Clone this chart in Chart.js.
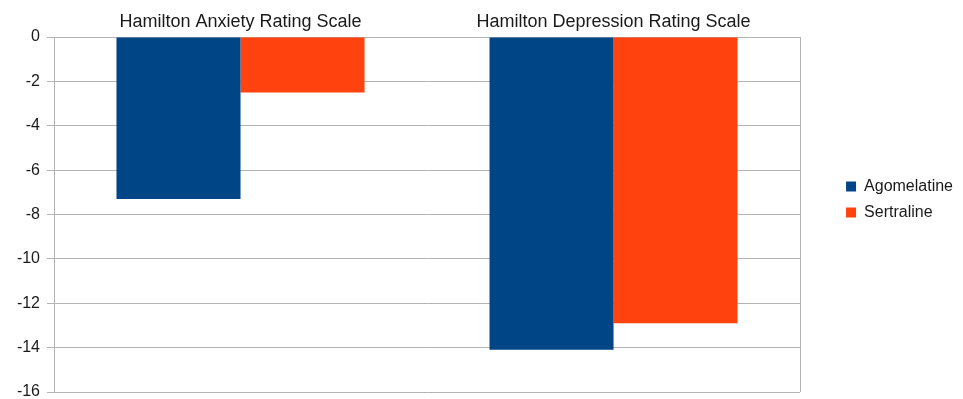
<!DOCTYPE html>
<html>
<head>
<meta charset="utf-8">
<script src="https://cdn.jsdelivr.net/npm/chart.js@4/dist/chart.umd.min.js"></script>
<style>
    html, body { margin: 0; padding: 0; background: #fff; }
    #scaleChart { display: block; }
</style>
</head>
<body>
<canvas id="scaleChart" width="963" height="399"></canvas>
<script>
const scaleLabels = ['Hamilton Anxiety Rating Scale', 'Hamilton Depression Rating Scale'];
const agomelatineData = [-7.3, -14.1];
const sertralineData = [-2.5, -12.9];
const yMin = -16;
const yMax = 0;
const yStep = 2;

document.addEventListener('DOMContentLoaded', function () {
    loadScaleChart();
});

const gridColor = '#b3b3b3';
const textColor = '#1a1a1a';

const chartScaleData = {
    labels: scaleLabels,
    datasets: [
        {
            label: 'Agomelatine',
            data: agomelatineData,
            backgroundColor: '#004586',
            borderWidth: 0
        },
        {
            label: 'Sertraline',
            data: sertralineData,
            backgroundColor: '#ff420e',
            borderWidth: 0
        }
    ]
};

function loadScaleChart() {
    const ctx = document.getElementById('scaleChart').getContext('2d');
    const scaleChart = new Chart(ctx, {
        type: 'bar',
        data: chartScaleData,
        options: {
            responsive: false,
            animation: false,
            layout: {
                padding: { left: 0, right: 0, top: 0, bottom: 0 }
            },
            datasets: {
                bar: {
                    categoryPercentage: 0.665,
                    barPercentage: 1.0
                }
            },
            plugins: {
                tooltip: { enabled: false },
                legend: {
                    position: 'right',
                    align: 'center',
                    labels: {
                        boxWidth: 10,
                        boxHeight: 10,
                        padding: 10,
                        color: textColor,
                        font: { family: 'Liberation Sans', size: 16 }
                    }
                }
            },
            scales: {
                x: {
                    position: 'top',
                    offset: true,
                    grid: {
                        offset: true,
                        drawTicks: false,
                        color: function (c) {
                            return c.index === 1 ? 'rgba(0,0,0,0)' : gridColor;
                        }
                    },
                    border: { color: gridColor },
                    ticks: {
                        color: textColor,
                        padding: 4,
                        maxRotation: 0,
                        autoSkip: false,
                        font: { family: 'Liberation Sans', size: 18 }
                    },
                    afterFit: function (scale) {
                        scale.height = 37;
                    }
                },
                y: {
                    min: yMin,
                    max: yMax,
                    grid: {
                        color: gridColor,
                        tickLength: 7
                    },
                    border: { color: gridColor },
                    ticks: {
                        stepSize: yStep,
                        color: textColor,
                        padding: 7,
                        font: { family: 'Liberation Sans', size: 16 }
                    },
                    afterFit: function (scale) {
                        scale.width = 54;
                        // the -16 label is cut by the bottom edge in the original
                        scale.paddingBottom = 7;
                    }
                },
                gap: {
                    type: 'linear',
                    position: 'right',
                    display: true,
                    grid: { display: false },
                    border: { display: false },
                    ticks: { display: false },
                    afterFit: function (scale) {
                        scale.width = 36;
                    }
                }
            }
        }
    });
}
</script>
</body>
</html>
